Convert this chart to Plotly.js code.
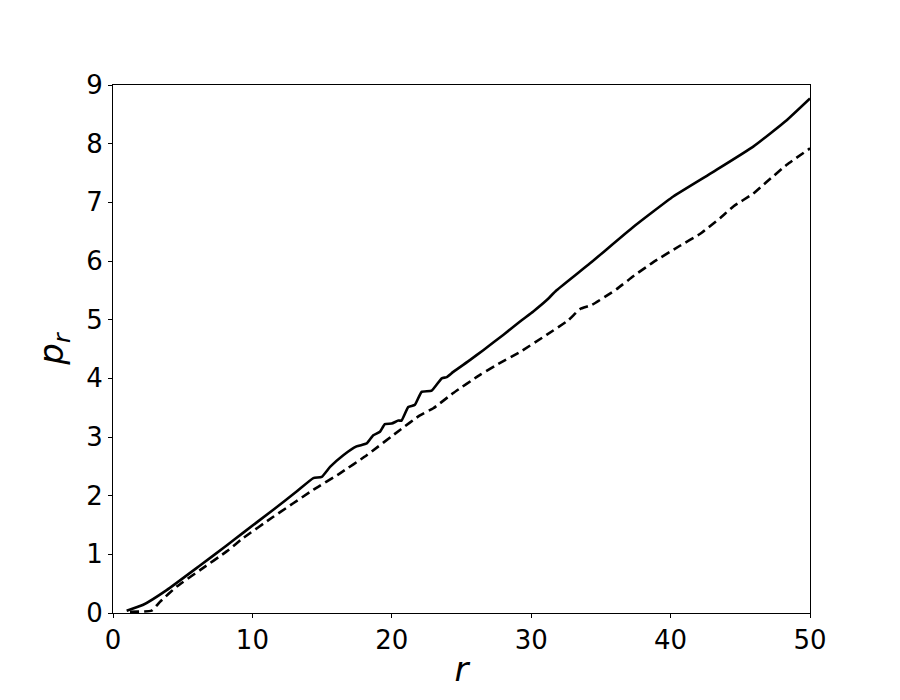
<!DOCTYPE html>
<html>
<head>
<meta charset="utf-8">
<script src="https://cdn.plot.ly/plotly-3.0.1.min.js"></script>
<style>html,body{margin:0;padding:0;background:#fff;}#chart{width:900px;height:700px;}</style>
</head>
<body>
<div id="chart"></div>
<script>
const solidR = [0.98, 2.17, 3.85, 6.24, 8.15, 9.35, 11.5, 13.17, 14.37, 14.97, 15.57, 16.52, 17.47, 18.2, 18.67, 19.15, 19.5, 19.99, 20.47, 20.7, 21.18, 21.66, 22.14, 22.86, 23.58, 23.94, 24.41, 25.6, 26.56, 27.99, 29.2, 30.15, 31.1, 31.82, 34.22, 37.32, 40.19, 43.06, 45.93, 48.33, 50];
const solidP = [0.04, 0.14, 0.39, 0.81, 1.15, 1.37, 1.76, 2.07, 2.30, 2.32, 2.49, 2.69, 2.84, 2.89, 3.03, 3.09, 3.22, 3.23, 3.28, 3.28, 3.51, 3.55, 3.77, 3.79, 4.00, 4.02, 4.11, 4.31, 4.48, 4.74, 4.97, 5.14, 5.33, 5.50, 5.96, 6.58, 7.10, 7.52, 7.95, 8.40, 8.77];
const dashR = [1.22, 2.77, 3.37, 4.57, 6.24, 8.15, 9.35, 11.5, 14.37, 16.28, 18.2, 20.59, 22.02, 22.98, 24.41, 26.33, 27.52, 29.2, 31.1, 32.66, 33.5, 34.34, 36.13, 37.32, 38.76, 40.67, 42.1, 43.54, 44.5, 45.93, 46.9, 48.33, 50];
const dashP = [0.02, 0.04, 0.19, 0.45, 0.73, 1.05, 1.28, 1.64, 2.10, 2.38, 2.69, 3.12, 3.37, 3.49, 3.75, 4.06, 4.23, 4.45, 4.74, 4.99, 5.18, 5.25, 5.52, 5.74, 5.98, 6.26, 6.46, 6.73, 6.93, 7.15, 7.35, 7.64, 7.92];
const xTicks = [0, 10, 20, 30, 40, 50];
const yTicks = [0, 1, 2, 3, 4, 5, 6, 7, 8, 9];

const traces = [
  {x: solidR, y: solidP, mode: 'lines', line: {color: '#000', width: 2.6, shape: 'spline', smoothing: 0.4}, showlegend: false},
  {x: dashR, y: dashP, mode: 'lines', line: {color: '#000', width: 2.6, dash: '9px,5px', shape: 'spline', smoothing: 0.4}, showlegend: false}
];
const layout = {
  width: 900, height: 700,
  margin: {l: 113, r: 90, t: 85, b: 87},
  paper_bgcolor: '#fff', plot_bgcolor: '#fff',
  font: {family: 'DejaVu Sans', color: '#000', size: 26},
  xaxis: {
    range: [0, 50], tickvals: xTicks, ticktext: xTicks.map(String),
    showgrid: false, zeroline: false, showline: true, linecolor: '#000', linewidth: 1, mirror: true,
    ticks: 'outside', ticklen: 4, tickcolor: '#000', tickwidth: 1,
    tickfont: {family: 'DejaVu Sans', size: 26, color: '#000'},
    title: {text: '<i>r</i>', font: {family: 'DejaVu Sans', size: 34, color: '#000'}, standoff: 2}
  },
  yaxis: {
    range: [0, 9], tickvals: yTicks, ticktext: yTicks.map(String),
    showgrid: false, zeroline: false, showline: true, linecolor: '#000', linewidth: 1, mirror: true,
    ticks: 'outside', ticklen: 4, tickcolor: '#000', tickwidth: 1,
    tickfont: {family: 'DejaVu Sans', size: 26, color: '#000'},
    title: {text: '<i>p</i><sub><i>r</i></sub>', font: {family: 'DejaVu Sans', size: 34, color: '#000'}, standoff: 12}
  }
};
Plotly.newPlot('chart', traces, layout, {displayModeBar: false, staticPlot: true});
</script>
</body>
</html>
